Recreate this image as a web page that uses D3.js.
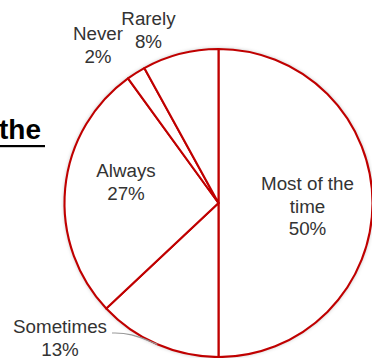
<!DOCTYPE html>
<html>
<head>
<meta charset="utf-8">
<script src="https://cdn.jsdelivr.net/npm/d3@7/dist/d3.min.js"></script>
<style>
  html, body { margin: 0; padding: 0; background: #fff; }
  svg { display: block; }
</style>
</head>
<body>
<svg id="chart" width="372" height="358"></svg>
<script>
// Survey answers, clockwise from 12 o'clock
const categories = ["Most of the time", "Sometimes", "Always", "Never", "Rarely"];
const values = [50, 13, 27, 2, 8];
const labelLines = [["Most of the", "time", "50%"], ["Sometimes", "13%"], ["Always", "27%"], ["Never", "2%"], ["Rarely", "8%"]];

const W = 372, H = 358;
const cx = 218.5, cy = 203, R = 154;
const red = "#c00000";
const textColor = "#333";
const font = "Arial, 'Liberation Sans', Helvetica, sans-serif";

const svg = d3.select("#chart");

// soft shadow around the pie
const defs = svg.append("defs");
const f = defs.append("filter").attr("id", "shadow")
  .attr("x", "-10%").attr("y", "-10%").attr("width", "120%").attr("height", "120%");
f.append("feDropShadow").attr("dx", 0).attr("dy", 0).attr("stdDeviation", 2.2)
  .attr("flood-color", "#000").attr("flood-opacity", 0.35);

// heading fragment on the left
svg.append("text")
  .attr("x", -1).attr("y", 139)
  .attr("font-family", font).attr("font-size", 28).attr("font-weight", "bold")
  .attr("fill", "#000")
  .text("the");
svg.append("rect").attr("x", 0).attr("y", 145).attr("width", 45).attr("height", 2.2).attr("fill", "#000");

const pie = d3.pie().sort(null).value(d => d.value);
const arcs = pie(categories.map((c, i) => ({ cat: c, value: values[i], lines: labelLines[i] })));
const arc = d3.arc().innerRadius(0).outerRadius(R);

const g = svg.append("g").attr("transform", `translate(${cx},${cy})`);

// shadow layer under the full disc
g.append("circle").attr("r", R).attr("fill", "#fff").attr("filter", "url(#shadow)");

g.selectAll("path.slice")
  .data(arcs)
  .join("path")
  .attr("class", "slice")
  .attr("d", arc)
  .attr("fill", "#fff")
  .attr("stroke", red)
  .attr("stroke-width", 2.1)
  .attr("stroke-linejoin", "round");

// label anchor positions (page coords) and first-line baselines
const labelPos = {
  "Most of the time": { x: 307.5, y: 190 },
  "Sometimes": { x: 60, y: 333 },
  "Always": { x: 126, y: 177 },
  "Never": { x: 98, y: 40 },
  "Rarely": { x: 148.5, y: 25 }
};
const lineH = 22.5;

arcs.forEach(a => {
  const p = labelPos[a.data.cat];
  const t = svg.append("text")
    .attr("font-family", font).attr("font-size", 18.8)
    .attr("fill", textColor).attr("text-anchor", "middle");
  a.data.lines.forEach((ln, i) => {
    t.append("tspan").attr("x", p.x).attr("y", p.y + i * lineH).text(ln);
  });
});

// leader line for the "Sometimes" label, ending on the slice's mid-angle
const sAng = (arcs[1].startAngle + arcs[1].endAngle) / 2;
const edge = [cx + R * Math.sin(sAng), cy - R * Math.cos(sAng)];
svg.append("path")
  .attr("d", d3.line().curve(d3.curveBasis)([[112, 333], [130, 333], [edge[0], edge[1]]]))
  .attr("fill", "none").attr("stroke", "#999").attr("stroke-width", 1.2);
</script>
</body>
</html>
